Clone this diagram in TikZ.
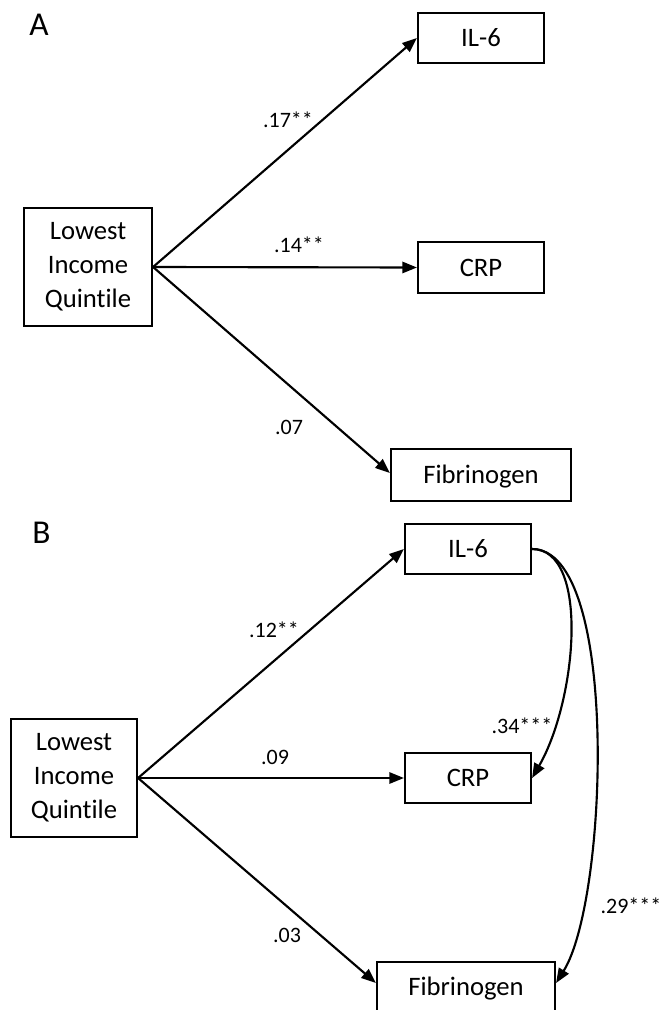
\documentclass[tikz,border=0pt]{standalone}
\usepackage{fontspec}
\setmainfont{Carlito}[Ligatures=NoCommon]
\usetikzlibrary{arrows.meta}
\begin{document}
\begin{tikzpicture}[x=0.75pt,y=-0.75pt,
  box/.style={draw, line width=1.6pt, inner sep=0pt, font=\fontsize{20}{25.5}\selectfont, text height=12.9pt, text depth=0pt},
  bigbox/.style={draw, line width=1.6pt, inner sep=0pt, align=center, font=\fontsize{20}{25.5}\selectfont, minimum width=96pt, minimum height=88.5pt},
  lbl/.style={inner sep=0pt, font=\fontsize{16.5}{20}\selectfont},
  panel/.style={inner sep=0pt, font=\fontsize{25}{29}\selectfont},
  arr/.style={line width=1.6pt, -{Triangle[length=11pt,width=8.5pt]}}
]
\clip (0,0) rectangle (663,1010);
\useasboundingbox (0,0) rectangle (663,1010);

% Panel A
\node[panel] (pA) at (39,25) {A};
\node[bigbox] (LA) at (88,267) {Lowest\\Income\\Quintile};
\node[box, minimum width=94.5pt, minimum height=37.5pt] (IL6a) at (481,38) {IL-6};
\node[box, minimum width=94.5pt, minimum height=38.25pt] (CRPa) at (481,267.5) {CRP};
\node[box, minimum width=135pt, minimum height=39pt] (FibA) at (481,475) {Fibrinogen};

\draw[arr] (LA.east) -- (IL6a.west);
\draw[arr] (LA.east) -- (CRPa.west);
\draw[arr] (LA.east) -- ([yshift=1.5pt]FibA.west);

\node[lbl] (lA1) at (288,120) {.17**};
\node[lbl] (lA2) at (299,245) {.14**};
\node[lbl] (lA3) at (289,427) {.07};

% Panel B
\node[panel] (pB) at (41.5,533) {B};
\node[bigbox, minimum width=94.5pt] (LB) at (74,778) {Lowest\\Income\\Quintile};
\node[box, minimum width=94.5pt, minimum height=37.5pt] (IL6b) at (468,549) {IL-6};
\node[box, minimum width=94.5pt, minimum height=37.5pt] (CRPb) at (468,778) {CRP};
\node[box, minimum width=133.5pt, minimum height=37.5pt] (FibB) at (466,987) {Fibrinogen};

\draw[arr] (LB.east) -- (IL6b.west);
\draw[arr] (LB.east) -- (CRPb.west);
\draw[arr] (LB.east) -- ([yshift=3pt]FibB.west);
\draw[arr] (IL6b.east) .. controls (590,549) and (577,700) .. (CRPb.east);
\draw[arr] (IL6b.east) .. controls (620,549) and (608,900) .. ([yshift=3pt]FibB.east);

\node[lbl] (lB1) at (274,630) {.12**};
\node[lbl] (lB2) at (275,757) {.09};
\node[lbl] (lB3) at (287,935) {.03};
\node[lbl] (lB4) at (522,726) {.34***};
\node[lbl] (lB5) at (631,906) {.29***};
\end{tikzpicture}
\end{document}
